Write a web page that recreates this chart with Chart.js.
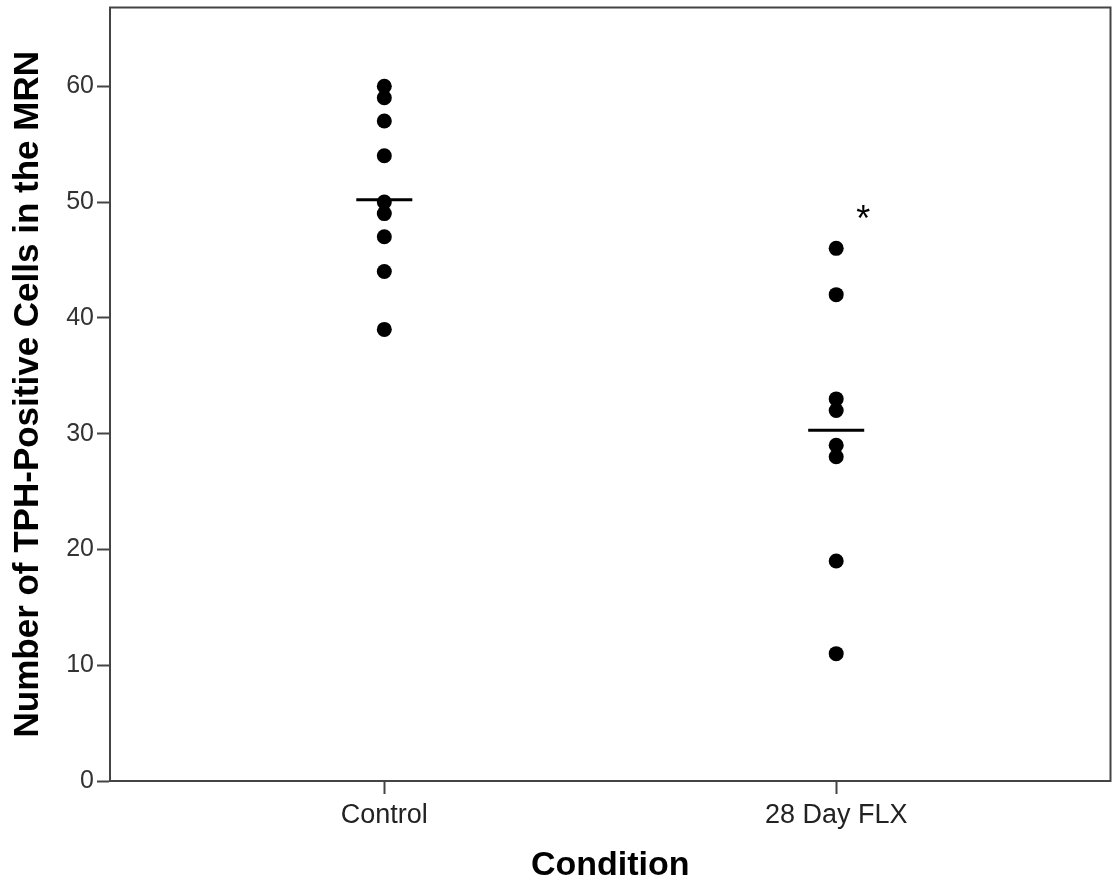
<!DOCTYPE html>
<html>
<head>
<meta charset="utf-8">
<script src="https://cdn.jsdelivr.net/npm/chart.js@4/dist/chart.umd.min.js"></script>
<style>
html,body{margin:0;padding:0;background:#fff;overflow:hidden;}
#wrap{width:1118px;height:888px;}
canvas{display:block;}
</style>
</head>
<body>
<div id="wrap"><canvas id="c" width="1118" height="888"></canvas></div>
<script>
const categories = ['Control', '28 Day FLX'];
const controlValues = [60, 59, 57, 54, 50, 49, 47, 44, 39];
const flxValues = [46, 42, 33, 32, 29, 28, 19, 11];
const medianValues = [50.2, 30.3];
const yTicks = [0, 10, 20, 30, 40, 50, 60];
const yMax = 66.8;
const significance = { label: '*', category: 1.06, value: 49.2 };

const groups = [controlValues, flxValues];
const medianHalfWidth = 0.062;

const pointDatasets = groups.map((vals, i) => ({
  type: 'scatter',
  data: vals.map(v => ({ x: i, y: v })),
  backgroundColor: '#000',
  borderWidth: 0,
  pointRadius: 7.5,
  pointHoverRadius: 7.5
}));
const medianDatasets = medianValues.map((m, i) => ({
  type: 'line',
  data: [{ x: i - medianHalfWidth, y: m }, { x: i + medianHalfWidth, y: m }],
  borderColor: '#000',
  borderWidth: 3,
  pointRadius: 0,
  fill: false
}));

const framePlugin = {
  id: 'frame',
  afterDatasetsDraw(chart) {
    const { ctx, chartArea: a, scales } = chart;
    ctx.save();
    ctx.strokeStyle = '#444';
    ctx.lineWidth = 2;
    ctx.strokeRect(a.left, a.top, a.right - a.left, a.bottom - a.top);
    ctx.fillStyle = '#000';
    ctx.font = '36px "Liberation Sans", Arial, sans-serif';
    ctx.textAlign = 'center';
    ctx.textBaseline = 'alphabetic';
    const px = scales.x.getPixelForValue(significance.category);
    const py = scales.y.getPixelForValue(significance.value);
    ctx.fillText(significance.label, px, py + 20);
    ctx.restore();
  }
};

new Chart(document.getElementById('c'), {
  type: 'scatter',
  data: { datasets: [...pointDatasets, ...medianDatasets] },
  options: {
    responsive: false,
    animation: false,
    events: [],
    layout: { padding: { top: 6, right: 4, left: 0, bottom: 0 } },
    plugins: { legend: { display: false }, tooltip: { enabled: false } },
    scales: {
      x: {
        type: 'linear',
        min: -0.607,
        max: 1.607,
        afterBuildTicks: s => { s.ticks = categories.map((c, i) => ({ value: i })); },
        afterFit: s => { s.height = 107; s.paddingLeft = 0; s.paddingRight = 0; s.paddingTop = 0; s.paddingBottom = 0; },
        ticks: {
          callback: v => categories[v],
          font: { family: '"Liberation Sans", Arial, sans-serif', size: 27 },
          color: '#222',
          padding: 5,
          maxRotation: 0,
          autoSkip: false
        },
        grid: { drawOnChartArea: false, drawTicks: true, tickLength: 13, color: '#444', tickWidth: 2 },
        border: { display: true, color: '#444', width: 2 },
        title: {
          display: true,
          text: 'Condition',
          font: { family: '"Liberation Sans", Arial, sans-serif', size: 34, weight: 'bold' },
          color: '#000',
          padding: { top: 0, bottom: 2 }
        }
      },
      y: {
        type: 'linear',
        min: 0,
        max: yMax,
        afterBuildTicks: s => { s.ticks = yTicks.map(v => ({ value: v })); },
        afterFit: s => { s.width = 110; s.paddingTop = 0; s.paddingBottom = 0; s.paddingLeft = 0; s.paddingRight = 0; },
        ticks: {
          font: { family: '"Liberation Sans", Arial, sans-serif', size: 25 },
          color: '#333',
          padding: 3
        },
        grid: { drawOnChartArea: false, drawTicks: true, tickLength: 13, color: '#444', tickWidth: 2 },
        border: { display: true, color: '#444', width: 2 },
        title: {
          display: true,
          text: 'Number of TPH-Positive Cells in the MRN',
          font: { family: '"Liberation Sans", Arial, sans-serif', size: 35, weight: 'bold' },
          color: '#000',
          padding: { top: 7, bottom: 0 }
        }
      }
    }
  },
  plugins: [framePlugin]
});
</script>
</body>
</html>
